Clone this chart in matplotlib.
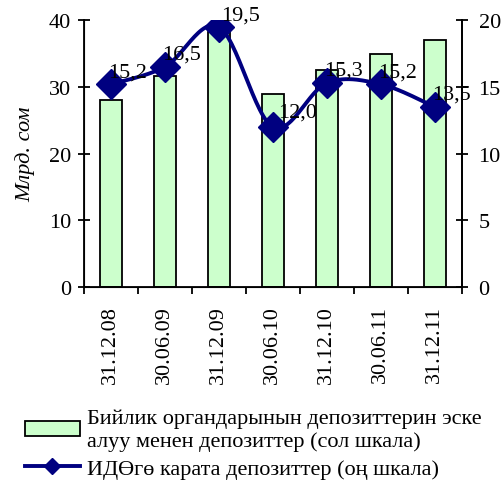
import numpy as np
import matplotlib
matplotlib.use("Agg")
import matplotlib.pyplot as plt
from matplotlib.patches import Patch
from matplotlib.lines import Line2D

plt.rcParams["font.family"] = ["Liberation Serif", "DejaVu Serif"]

dates = ["31.12.08", "30.06.09", "31.12.09", "30.06.10", "31.12.10", "30.06.11", "31.12.11"]
deposits = [28.1, 31.7, 38.3, 29.0, 32.6, 35.0, 37.1]
gdp_share = [15.2, 16.5, 19.5, 12.0, 15.3, 15.2, 13.5]
share_labels = ["15,2", "16,5", "19,5", "12,0", "15,3", "15,2", "13,5"]

bar_name = "Бийлик органдарынын депозиттерин эске\nалуу менен депозиттер (сол шкала)"
line_name = "ИДӨгө карата депозиттер (оң шкала)"

green = "#CCFFCC"
navy = "#000080"
fs = 16


def smooth(xs, ys, n=30):
    # сглаженная линия как в Excel (Catmull-Rom)
    xs = np.asarray(xs, float)
    ys = np.asarray(ys, float)
    px = np.concatenate([[xs[0]], xs, [xs[-1]]])
    py = np.concatenate([[ys[0]], ys, [ys[-1]]])
    ox, oy = [], []
    for i in range(1, len(px) - 2):
        t = np.linspace(0, 1, n)
        c1x = px[i] + (px[i + 1] - px[i - 1]) / 6
        c1y = py[i] + (py[i + 1] - py[i - 1]) / 6
        c2x = px[i + 1] - (px[i + 2] - px[i]) / 6
        c2y = py[i + 1] - (py[i + 2] - py[i]) / 6
        bx = (1 - t) ** 3 * px[i] + 3 * (1 - t) ** 2 * t * c1x + 3 * (1 - t) * t ** 2 * c2x + t ** 3 * px[i + 1]
        by = (1 - t) ** 3 * py[i] + 3 * (1 - t) ** 2 * t * c1y + 3 * (1 - t) * t ** 2 * c2y + t ** 3 * py[i + 1]
        ox.extend(bx)
        oy.extend(by)
    return np.array(ox), np.array(oy)


fig = plt.figure(figsize=(5.02, 4.81), dpi=100)
ax = fig.add_axes([0.167, 0.401, 0.753, 0.555])
x = np.arange(len(dates))

ax.bar(x, deposits, width=0.41, color=green, edgecolor="black", linewidth=1.3, zorder=2)
ax.set_xlim(-0.5, len(dates) - 0.5)
ax.set_ylim(0, 40)
ax.set_yticks([0, 10, 20, 30, 40])
ax.set_xticks(x)
ax.set_xticklabels(dates, rotation=90, fontsize=fs)
ax.set_xticks(np.arange(-0.5, len(dates)), minor=True)
ax.tick_params(axis="x", which="major", length=0, pad=13)
ax.tick_params(axis="x", which="minor", direction="out", length=5, width=1.3)
ax.tick_params(axis="y", direction="inout", length=8, width=1.3, labelsize=fs, pad=5)
ax.set_ylabel("Млрд. сом", fontsize=fs, style="italic", labelpad=10)
ax.spines["top"].set_visible(False)
for s in ["left", "bottom", "right"]:
    ax.spines[s].set_linewidth(1.3)

ax2 = ax.twinx()
ax2.set_ylim(0, 20)
ax2.set_yticks([0, 5, 10, 15, 20])
ax2.tick_params(axis="y", direction="inout", length=8, width=1.3, labelsize=fs, pad=8)
ax2.spines["top"].set_visible(False)
ax2.spines["right"].set_linewidth(1.3)

sx, sy = smooth(x, gdp_share)
ax2.plot(sx, sy, color=navy, linewidth=2.8, zorder=3)
ax2.plot(x, gdp_share, linestyle="none", marker="D", markersize=15, color=navy, zorder=4)

offsets = [(-3, 3), (-3, 3), (2, 2), (5, 5), (-3, 3), (-3, 3), (-3, 3)]
for xi, yi, lab, off in zip(x, gdp_share, share_labels, offsets):
    ax2.annotate(lab, (xi, yi), xytext=off, textcoords="offset pixels",
                 ha="left", va="bottom", fontsize=fs, zorder=5)

handles = [Patch(facecolor=green, edgecolor="black", linewidth=1.3),
           Line2D([], [], color=navy, linewidth=2.8, marker="D", markersize=8)]
fig.legend(handles, [bar_name, line_name], loc="lower left", bbox_to_anchor=(0.018, -0.03),
           frameon=False, fontsize=fs, handlelength=2.5, handletextpad=0.3,
           labelspacing=0.35, borderpad=0.2)

fig.savefig("out.png", dpi=100)
